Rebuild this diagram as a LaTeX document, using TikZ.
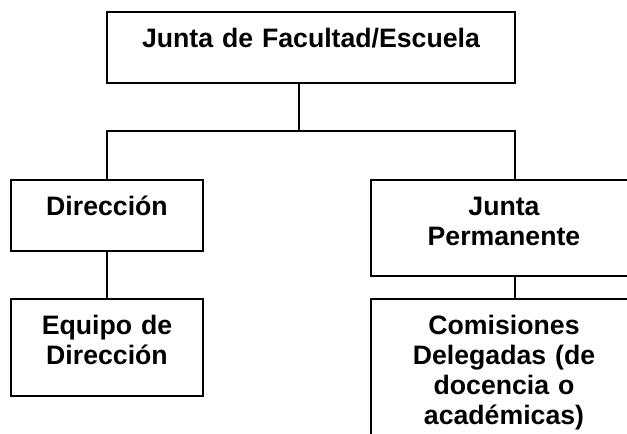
\documentclass[tikz,border=0pt]{standalone}
\usepackage{fontspec}
\setmainfont{Liberation Sans}
\begin{document}
\begin{tikzpicture}[x=0.75pt,y=-0.75pt,
  box/.style={draw, line width=1.2pt, inner sep=0pt, align=center,
    font=\fontsize{20}{22.5}\selectfont\bfseries, text height=27pt, anchor=north},
  conn/.style={line width=1.2pt}]
\useasboundingbox (0,0) rectangle (627,434);
\node[box, text width=306pt, text depth=26.25pt] (top) at (311,11) {Junta de Facultad/Escuela};
\node[box, text width=144pt, text depth=26.25pt] (dir) at (107,179) {Dirección};
\node[box, text width=144pt, text depth=45.75pt] (equ) at (107,298) {Equipo de\\Dirección};
\node[box, text width=199.5pt, text depth=45pt] (jp) at (504,179) {Junta\\Permanente};
\node[box, text width=199.5pt, text depth=93pt] (com) at (504,298) {Comisiones\\Delegadas (de\\docencia o\\académicas)};
\coordinate (hub) at (299,131);
\coordinate (lx) at (107,131);
\coordinate (rx) at (515,131);
\draw[conn] (top.south -| hub) -- (hub);
\draw[conn] (dir.north) -- (lx) -- (rx) -- (jp.north -| rx);
\draw[conn] (dir.south) -- (equ.north);
\draw[conn] (jp.south -| rx) -- (com.north -| rx);
\end{tikzpicture}
\end{document}
